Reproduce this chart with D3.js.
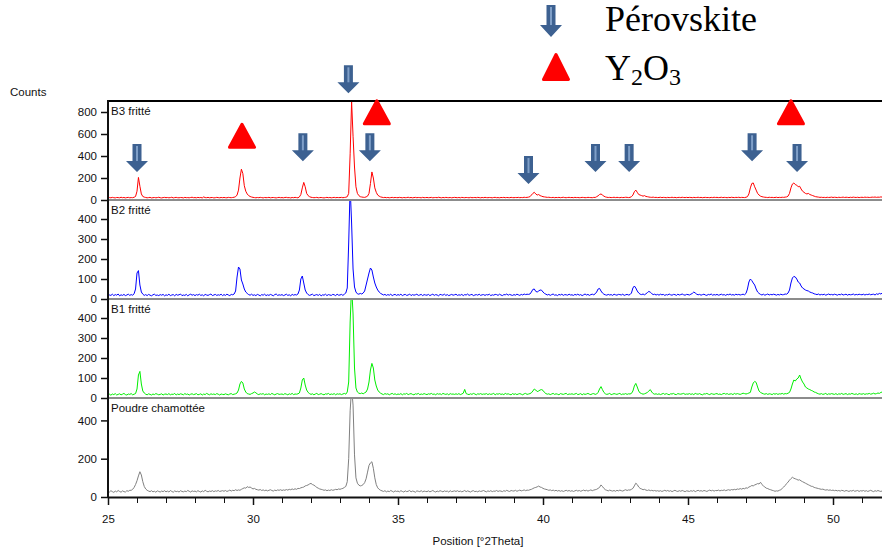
<!DOCTYPE html>
<html><head><meta charset="utf-8">
<script src="https://cdn.jsdelivr.net/npm/d3@7"></script>
<style>body{margin:0;background:#fff}svg{display:block}</style>
</head><body><svg id="c" width="882" height="550"></svg>
<script>
// ---- data ----
const thetaStart = 25, thetaStep = 0.05;           // 2Theta grid of the scan
const xMajorTicks = [25, 30, 35, 40, 45, 50];
const xMinorTicks = d3.range(25, 52, 1);
const seriesNames = ["B3 fritté", "B2 fritté", "B1 fritté", "Poudre chamottée"];
const b3 = [
18,22,20,24,21,19,23,22,20,25,21,23,19,22,24,20,22,21,25,32,
80,205,125,55,32,26,23,20,22,24,19,21,23,20,22,25,21,19,22,24,
21,23,20,22,25,19,22,24,21,20,23,22,19,24,21,22,20,23,25,21,
22,20,24,21,23,19,28,22,21,24,20,22,23,19,21,24,22,20,23,21,
23,21,20,24,22,21,23,25,30,45,90,200,280,240,130,80,55,40,32,27,
24,22,20,23,21,24,22,19,23,21,22,24,20,22,23,21,19,22,24,21,
22,20,23,24,21,22,19,23,21,24,22,20,28,50,110,160,120,60,40,30,
25,23,21,22,24,20,22,23,21,19,22,24,21,23,20,22,24,21,23,22,
22,24,21,23,25,30,60,420,895,580,300,120,60,40,30,27,25,24,28,35,
60,150,255,200,110,70,45,35,28,25,22,24,21,23,20,22,24,21,23,22,
21,24,22,20,23,21,22,25,21,23,20,22,24,21,23,22,20,24,21,22,
23,21,22,24,20,22,23,21,25,22,20,23,21,24,22,21,23,20,22,24,
22,21,23,20,24,22,21,23,22,20,24,21,22,23,21,24,22,20,23,21,
24,22,21,23,22,20,23,24,21,22,20,23,22,24,21,23,22,21,24,22,
21,23,22,24,21,23,22,25,23,24,26,30,45,60,70,55,45,50,40,35,
30,28,26,24,25,23,22,24,21,23,22,24,21,23,25,22,21,23,24,22,
23,21,24,22,23,21,22,24,23,21,22,24,23,22,21,24,23,30,38,50,
55,45,35,28,25,23,24,22,23,25,22,24,23,21,24,22,23,25,24,22,
24,30,45,75,90,70,50,45,40,35,40,32,30,27,25,24,26,23,24,22,
23,25,22,24,23,21,24,22,23,25,22,24,21,23,24,22,25,23,22,24,
22,24,23,21,24,22,23,25,22,24,21,23,24,22,23,21,24,22,25,23,
24,22,23,25,22,24,23,21,24,22,25,23,22,24,23,25,22,24,23,22,
25,30,55,110,150,155,120,90,60,45,35,30,27,25,24,22,25,23,24,22,
23,25,22,24,23,25,24,26,28,35,60,110,145,155,140,135,120,125,100,80,
70,60,55,60,50,45,40,35,30,28,26,24,25,23,24,22,25,23,24,26,
23,25,24,22,25,23,24,26,23,25,24,22,25,23,26,24,23,25,22,24,
25,23,26,24,25,23,24,26,25,27,24,26,25,28,26];
const b2 = [
15,20,18,24,17,22,19,25,16,21,18,23,17,20,24,18,22,19,26,50,
130,142,70,35,24,18,22,17,23,19,16,21,24,18,20,17,22,19,23,16,
21,18,24,17,20,22,16,23,19,21,25,17,20,18,23,16,21,24,19,22,
17,22,19,24,18,21,16,23,20,18,22,25,17,20,23,18,21,19,24,17,
22,18,24,20,17,23,21,25,40,110,160,150,95,75,50,35,28,22,19,24,
18,21,17,23,20,16,22,19,24,17,21,18,23,20,16,22,25,18,21,19,
22,17,20,24,18,21,16,23,19,22,20,25,45,100,115,80,45,30,22,18,
21,24,17,20,22,18,23,16,21,19,24,17,22,20,18,23,21,17,24,19,
20,23,18,24,30,55,280,560,380,150,60,35,26,24,28,25,30,40,70,100,
130,155,145,110,80,60,45,35,28,24,20,23,18,22,19,24,17,21,23,18,
22,19,24,17,21,23,18,20,25,17,22,19,21,24,18,20,23,17,22,20,
19,23,17,21,24,18,22,20,16,23,21,19,24,18,22,17,20,23,19,21,
24,18,21,19,23,17,22,20,25,18,21,23,17,20,22,19,24,18,21,22,
18,22,20,24,17,21,19,23,22,18,24,20,17,22,21,25,19,23,20,18,
22,19,24,21,18,23,20,25,22,24,23,25,35,48,50,38,35,40,45,44,
35,28,24,20,23,18,22,25,19,21,17,23,20,24,18,22,21,19,24,20,
21,18,23,20,24,19,22,17,21,25,20,23,18,22,24,21,26,35,50,53,
40,30,24,21,19,23,20,22,18,24,21,19,23,22,20,24,18,21,23,20,
22,30,55,65,55,40,30,24,22,25,21,26,32,38,34,27,22,24,20,23,
19,24,21,23,18,22,20,25,21,19,23,22,18,24,20,22,25,21,19,23,
22,20,24,28,35,30,24,21,23,19,22,24,20,18,23,21,25,19,22,20,
23,19,21,24,20,22,18,23,21,25,20,22,19,24,21,23,20,22,24,21,
28,50,85,100,92,80,70,50,35,28,23,20,24,19,22,25,20,23,21,24,
22,19,23,20,24,21,22,25,24,30,45,80,105,113,110,100,85,80,65,55,
50,45,42,40,35,32,30,26,24,22,25,20,23,21,24,19,22,25,21,23,
20,24,22,19,23,21,25,20,22,24,19,23,21,22,25,20,23,21,24,22,
21,24,20,23,22,25,21,23,24,20,26,23,28,25,30];
const b1 = [
16,19,14,20,17,22,15,18,21,16,19,23,17,15,20,18,22,16,19,22,
45,115,133,70,35,25,19,16,21,18,15,20,17,22,19,16,18,21,15,19,
20,17,22,16,19,18,23,15,20,17,21,19,16,22,18,20,15,19,21,17,
19,22,16,18,21,15,20,17,23,19,16,21,18,20,17,22,19,15,20,18,
17,21,18,16,20,22,17,19,21,25,40,70,83,75,45,30,22,20,18,22,
25,30,26,20,17,21,19,22,16,20,18,21,17,23,19,16,20,22,18,19,
20,17,22,19,16,21,18,23,17,20,19,21,25,50,90,100,65,40,28,22,
18,21,16,20,23,17,19,22,18,16,21,19,23,17,20,18,22,16,21,19,
21,17,20,23,19,30,80,380,560,420,150,50,30,24,22,25,21,26,30,45,
80,140,173,150,90,60,40,30,24,20,17,22,19,21,16,20,23,18,21,17,
20,18,22,16,21,19,23,17,20,22,18,16,21,19,23,17,20,18,22,19,
17,21,19,23,18,20,16,22,19,21,17,23,20,18,21,16,22,19,20,18,
21,18,22,17,20,24,43,22,19,17,21,18,23,20,16,21,19,22,18,20,
19,22,17,21,18,20,23,16,21,19,22,18,20,17,23,19,21,18,16,22,
18,21,17,20,22,19,16,21,23,18,20,22,26,35,45,40,32,35,40,42,
38,28,22,19,21,17,20,23,18,21,19,16,22,20,18,21,23,17,20,19,
21,18,20,23,17,19,22,16,21,18,20,23,19,17,21,22,18,20,28,45,
57,42,28,21,18,20,23,17,19,22,20,18,21,23,17,20,19,22,18,21,
20,23,35,60,73,55,35,25,22,19,21,24,28,35,42,30,22,19,21,18,
21,17,20,23,18,22,19,16,21,20,23,18,17,22,20,19,21,23,18,20,
19,22,18,21,17,23,20,19,22,18,16,21,20,23,19,17,22,20,18,21,
22,18,20,17,21,23,19,22,18,20,21,17,23,19,22,20,18,21,24,22,
20,22,25,28,55,75,83,78,55,35,28,24,21,19,22,18,21,20,17,22,
19,22,18,21,20,23,19,22,21,24,28,45,70,90,85,95,100,115,95,80,
70,55,50,45,42,38,35,30,28,24,21,19,22,18,20,23,17,21,19,22,
20,18,22,17,21,19,23,18,20,22,17,21,19,23,20,18,21,17,22,20,
19,22,18,21,20,23,19,21,24,20,22,25,23,28,30];
const poudre = [
30,26,33,28,24,31,27,34,29,25,32,28,26,33,30,35,35,40,50,65,
85,110,132,115,80,55,42,35,31,28,33,27,30,25,32,29,26,31,28,33,
27,31,26,34,29,25,32,28,30,26,33,29,27,31,28,34,30,26,32,29,
31,27,33,29,26,32,28,35,30,27,31,29,33,28,32,30,34,29,31,33,
30,34,29,32,36,31,35,33,38,34,37,35,40,44,48,46,54,50,52,47,
42,45,40,38,36,39,34,37,33,36,32,35,38,34,31,36,33,37,35,38,
34,37,35,39,36,40,38,42,39,43,40,45,44,48,50,52,58,60,63,68,
71,65,62,56,50,46,42,40,38,35,37,33,36,34,38,35,37,40,38,42,
40,43,45,50,55,80,200,450,570,480,220,100,72,62,58,60,65,75,95,130,
165,178,184,150,100,65,48,40,35,32,29,33,27,31,28,34,30,26,32,29,
31,27,33,29,26,32,28,30,34,27,31,29,25,32,30,28,33,27,31,29,
28,32,27,30,34,29,26,31,28,33,30,27,32,29,31,26,33,28,30,32,
29,33,28,31,27,30,34,28,32,29,26,31,33,28,30,27,32,29,31,34,
30,27,32,29,33,28,31,30,34,29,32,31,28,33,30,35,31,29,34,32,
31,35,30,33,36,32,34,37,33,36,35,38,40,44,48,50,53,57,52,50,
45,42,40,38,35,37,33,36,32,35,31,34,30,33,29,32,35,31,34,30,
33,29,32,35,31,34,30,33,36,32,35,31,34,37,33,36,38,40,45,50,
63,55,45,38,35,32,36,33,31,34,30,35,32,36,33,31,35,38,34,37,
36,40,45,58,72,65,52,45,42,38,40,36,34,37,33,35,32,34,31,33,
30,33,29,32,35,31,34,30,33,28,32,35,31,29,33,30,34,31,28,32,
31,29,33,30,34,28,32,35,31,33,30,34,32,29,33,36,32,35,31,34,
33,36,32,35,34,37,33,36,38,35,39,37,40,38,42,40,44,41,45,43,
48,46,52,55,60,58,63,66,70,68,77,65,58,52,46,44,40,38,35,33,
30,32,31,35,38,45,52,60,70,78,88,96,103,98,95,92,88,90,84,80,
76,72,68,64,60,56,55,50,48,46,44,42,40,41,38,36,38,35,37,34,
36,33,35,32,34,31,35,33,30,34,32,29,33,31,35,30,32,34,29,33,
31,34,30,33,29,32,35,31,28,33,30,34,31,29,32];
const seriesValues = [b3, b2, b1, poudre];
const seriesColors = ["#ff0000", "#0000ff", "#00ee00", "#808080"];
const yMax = [900, 495, 495, 517];
const yTickValues = [[0,200,400,600,800],[0,100,200,300,400],[0,100,200,300,400],[0,200,400]];
// annotation markers on B3 panel: [2Theta, tip/base level in B3 counts]
const perovskiteMarks = [[26.0,255],[31.72,352],[33.29,970],[34.03,352],[39.5,145],[41.81,255],[42.97,255],[47.21,352],[48.76,255]];
const y2o3Marks = [[29.62,466],[34.27,679],[48.55,679]];

// ---- layout ----
const svg = d3.select("#c");
const left = 108, right = 882, top0 = 101, panelH = 99;
const x = d3.scaleLinear().domain([25, 25 + (right - left) / 29]).range([left, right]);
const font = "'Liberation Sans', Arial, sans-serif";

const panels = seriesNames.map((name, k) => {
  const t = top0 + k * panelH;
  return { name, top: t, bottom: t + panelH,
    y: d3.scaleLinear().domain([0, yMax[k]]).range([t + panelH, t]) };
});

const defs = svg.append("defs");
panels.forEach((p, k) => {
  defs.append("clipPath").attr("id", "clip" + k).append("rect")
    .attr("x", left).attr("y", p.top).attr("width", right - left).attr("height", panelH);
});

// lines
panels.forEach((p, k) => {
  const vals = seriesValues[k];
  const line = d3.line().x((d, i) => x(thetaStart + i * thetaStep)).y(d => p.y(d));
  svg.append("path").attr("d", line(vals)).attr("fill", "none")
    .attr("stroke", seriesColors[k]).attr("stroke-width", 1)
    .attr("clip-path", `url(#clip${k})`);
});

// panel separators and frame
panels.forEach((p, k) => {
  if (k > 0) svg.append("line").attr("x1", left).attr("x2", right)
    .attr("y1", p.top).attr("y2", p.top).attr("stroke", "#8c8c8c").attr("stroke-width", 2);
});
svg.append("line").attr("x1", left).attr("x2", right).attr("y1", top0).attr("y2", top0)
  .attr("stroke", "#000").attr("stroke-width", 2);

// y axes
panels.forEach((p, k) => {
  const g = svg.append("g").attr("transform", `translate(${left},0)`)
    .call(d3.axisLeft(p.y).tickValues(yTickValues[k]).tickSize(7).tickSizeOuter(0).tickPadding(4));
  g.select(".domain").remove();
  g.selectAll(".tick line").attr("stroke", "#111").attr("stroke-width", 1.5);
  g.selectAll(".tick text").attr("font-family", font).attr("font-size", 11.5).attr("fill", "#111");
  svg.append("text").attr("x", left + 3).attr("y", p.top + 14).text(p.name)
    .attr("font-family", font).attr("font-size", 11.5).attr("fill", "#111");
});
svg.append("line").attr("x1", left).attr("x2", left).attr("y1", top0 - 1).attr("y2", top0 + 4 * panelH + 1)
  .attr("stroke", "#111").attr("stroke-width", 2);

// x axis
const bottomY = top0 + 4 * panelH;
const gxMinor = svg.append("g").attr("transform", `translate(0,${bottomY})`)
  .call(d3.axisBottom(x).tickValues(xMinorTicks).tickSize(6).tickFormat(""));
gxMinor.select(".domain").remove();
gxMinor.selectAll(".tick line").attr("stroke", "#111").attr("stroke-width", 1);
const gx = svg.append("g").attr("transform", `translate(0,${bottomY})`)
  .call(d3.axisBottom(x).tickValues(xMajorTicks).tickSize(8).tickSizeOuter(0).tickPadding(10));
gx.select(".domain").attr("stroke", "#111").attr("stroke-width", 2);
gx.selectAll(".tick line").attr("stroke", "#111").attr("stroke-width", 1.5);
gx.selectAll(".tick text").attr("font-family", font).attr("font-size", 11.5).attr("fill", "#111");

svg.append("text").attr("x", 478).attr("y", 545).attr("text-anchor", "middle")
  .attr("font-family", font).attr("font-size", 11.5).attr("fill", "#111").text("Position [°2Theta]");
svg.append("text").attr("x", 10).attr("y", 96)
  .attr("font-family", font).attr("font-size", 11.5).attr("fill", "#111").text("Counts");

// markers
const arrowFill = "#3d6191", stripeFill = "#7f9fc8";
function drawArrow(cx, tip, h, w, sw, hh) {
  const g = svg.append("g");
  g.append("path").attr("d",
    `M${cx - sw/2},${tip - h} L${cx + sw/2},${tip - h} L${cx + sw/2},${tip - hh} L${cx + w/2},${tip - hh} L${cx},${tip} L${cx - w/2},${tip - hh} L${cx - sw/2},${tip - hh} Z`)
    .attr("fill", arrowFill);
  g.append("rect").attr("x", cx - 1).attr("y", tip - h + 2).attr("width", 2).attr("height", h - hh - 2)
    .attr("fill", stripeFill);
}
function drawTriangle(cx, base, w, h) {
  svg.append("path").attr("d", `M${cx},${base - h} L${cx + w/2},${base} L${cx - w/2},${base} Z`)
    .attr("fill", "#ff0000").attr("stroke", "#ff0000").attr("stroke-width", 3).attr("stroke-linejoin", "round");
}
const yB3 = panels[0].y;
perovskiteMarks.forEach(([t, c]) => drawArrow(x(t), yB3(c), 28, 22, 9, 11));
y2o3Marks.forEach(([t, c]) => drawTriangle(x(t), yB3(c) - 1.5, 25, 23));

// legend
drawArrow(551, 37, 32, 22, 9, 12);
drawTriangle(556, 79.5, 25, 25);
const serif = "'Liberation Serif', 'Times New Roman', serif";
svg.append("text").attr("x", 605).attr("y", 31).attr("font-family", serif).attr("font-size", 36)
  .attr("fill", "#000").text("Pérovskite");
const t2 = svg.append("text").attr("x", 605).attr("y", 80).attr("font-family", serif).attr("font-size", 36).attr("fill", "#000");
t2.append("tspan").text("Y");
t2.append("tspan").attr("font-size", 24).attr("dy", 5).text("2");
t2.append("tspan").attr("dy", -5).text("O");
t2.append("tspan").attr("font-size", 24).attr("dy", 5).text("3");
</script></body></html>
